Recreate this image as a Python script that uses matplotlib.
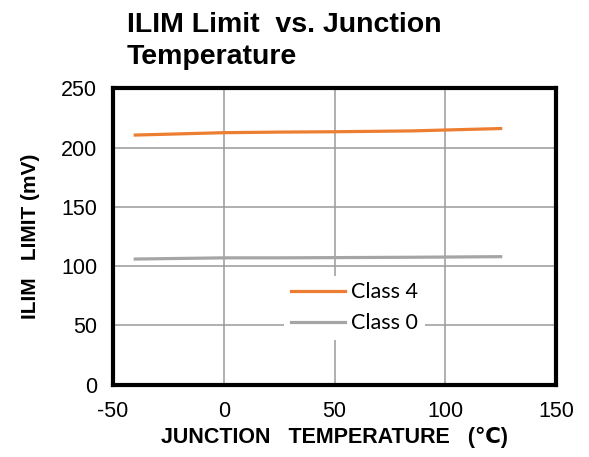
import numpy as np
import matplotlib.pyplot as plt

# junction temperature (C) and ILIM limit (mV)
temp = [-40, 0, 25, 50, 85, 125]
class4 = [210.5, 212.5, 213.0, 213.3, 214.0, 216.0]
class0 = [106.0, 107.0, 107.0, 107.2, 107.5, 108.0]

plt.rcParams['font.family'] = ['Liberation Sans', 'DejaVu Sans']
plt.rcParams['axes.unicode_minus'] = False

fig = plt.figure(figsize=(5.89, 4.57), dpi=100)
ax = fig.add_axes([0.192, 0.158, 0.752, 0.649])

ax.plot(temp, class4, color='#ED7D31', lw=2.3, label='Class 4')
ax.plot(temp, class0, color='#A5A5A5', lw=2.3, label='Class 0')

ax.set_xlim(-50, 150)
ax.set_ylim(0, 250)
ax.set_xticks(np.arange(-50, 151, 50))
ax.set_yticks(np.arange(0, 251, 50))
ax.grid(True, color='#9a9a9a', lw=1.1)
ax.set_axisbelow(True)
for s in ax.spines.values():
    s.set_linewidth(3)
    s.set_color('black')
ax.tick_params(length=0, labelsize=15.5)
ax.tick_params(axis='x', pad=12)
ax.tick_params(axis='y', pad=11.5)

ax.set_xlabel('JUNCTION   TEMPERATURE   (\u2103)', fontsize=15.5, fontweight='bold', labelpad=3)
ax.set_ylabel('ILIM   LIMIT (mV)', fontsize=15, fontweight='bold', labelpad=15)

leg = ax.legend(loc='center', bbox_to_anchor=(0.545, 0.26), frameon=True,
                prop={'family': 'Lato', 'size': 15.5}, handlelength=2.5,
                handletextpad=0.3, labelspacing=0.5, borderpad=0.3)
leg.get_frame().set_edgecolor('none')
leg.get_frame().set_facecolor('white')
leg.get_frame().set_alpha(1)

fig.text(127/589, 1 - 12/457, 'ILIM Limit  vs. Junction\nTemperature', fontsize=20.5,
         fontweight='bold', va='top', ha='left', linespacing=1.3)

fig.savefig('out.png', dpi=100)
